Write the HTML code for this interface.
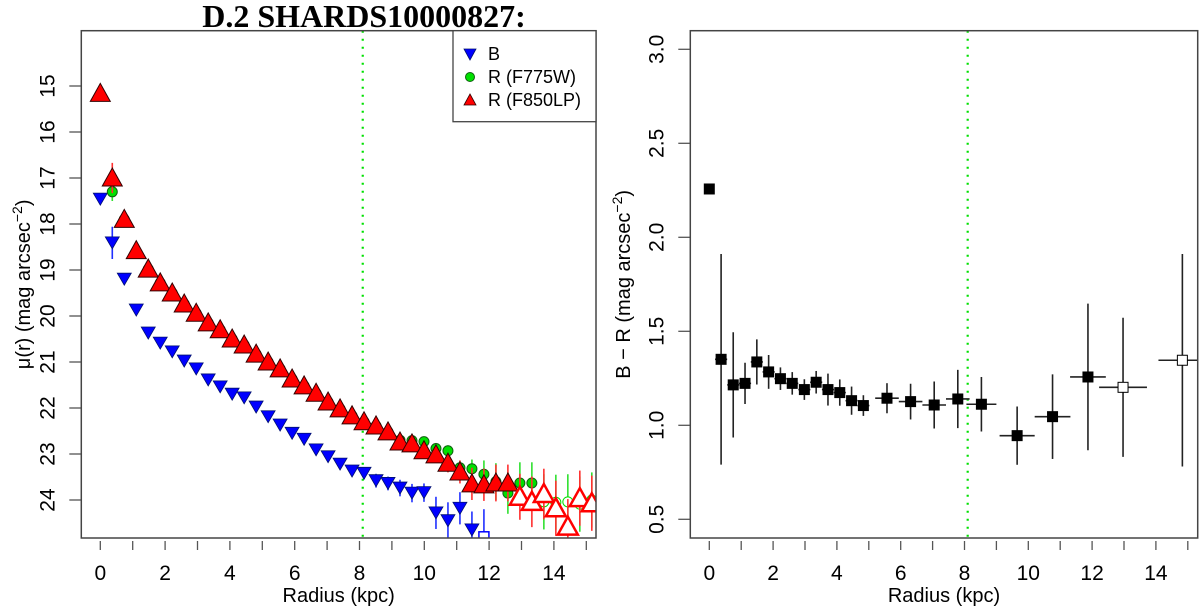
<!DOCTYPE html>
<html><head><meta charset="utf-8"><style>
html,body{margin:0;padding:0;background:#fff}
svg{display:block;font-family:"Liberation Sans",sans-serif}
</style></head><body>
<svg id="fig" width="1200" height="610" viewBox="0 0 1200 610" xmlns="http://www.w3.org/2000/svg">
<text x="364" y="27" text-anchor="middle" font-family="Liberation Serif, serif" font-weight="bold" font-size="32">D.2 SHARDS10000827:</text>
<g id="left"></g>
<g id="right"></g>
</svg>
<script>
// ---- Left panel data ----
const bMag = [17.46,18.41,19.2,19.87,20.37,20.59,20.78,20.98,21.15,21.39,21.54,21.7,21.78,21.98,22.19,22.37,22.55,22.68,22.91,23.06,23.22,23.37,23.42,23.58,23.64,23.74,23.85,23.84,24.28,24.45,24.18,24.65,24.8];
const bErr = [0.03,0.35,0.12,0.05,0.04,0.04,0.04,0.04,0.04,0.04,0.05,0.05,0.05,0.05,0.05,0.06,0.06,0.06,0.08,0.08,0.1,0.1,0.12,0.15,0.15,0.18,0.2,0.2,0.35,0.4,0.35,0.4,0.6];
const rMag = [15.16,17.0,17.9,18.58,18.98,19.28,19.5,19.74,19.94,20.15,20.3,20.5,20.63,20.83,21.0,21.15,21.37,21.52,21.68,21.87,22.02,22.17,22.3,22.39,22.52,22.74,22.78,22.93,23.02,23.2,23.39,23.65,23.67,23.63,23.63,23.93,24.04,23.87,24.18,24.58,23.96,24.07];
const rErr = [0.03,0.33,0.15,0.05,0.04,0.04,0.04,0.04,0.04,0.04,0.04,0.05,0.05,0.05,0.05,0.05,0.06,0.06,0.06,0.07,0.07,0.08,0.08,0.09,0.1,0.12,0.12,0.14,0.15,0.2,0.25,0.35,0.35,0.4,0.4,0.5,0.55,0.55,0.6,0.6,0.6,0.6];
const gMag = [15.2,17.3,17.9,18.6,18.98,19.28,19.5,19.74,19.94,20.15,20.3,20.5,20.63,20.83,21.0,21.15,21.37,21.52,21.68,21.87,22.02,22.17,22.3,22.39,22.52,22.7,22.71,22.73,22.88,22.93,23.3,23.32,23.44,23.6,23.85,23.63,23.63,24.04,24.05,24.04,24.09,24.0];
const gErr = [0.03,0.2,0.15,0.05,0.04,0.04,0.04,0.04,0.04,0.04,0.04,0.05,0.05,0.05,0.05,0.05,0.06,0.06,0.06,0.07,0.07,0.08,0.08,0.09,0.1,0.1,0.1,0.1,0.12,0.12,0.15,0.2,0.3,0.4,0.45,0.45,0.45,0.6,0.6,0.6,0.6,0.6];
const radStep = 0.37;
const bOpenFrom = 32, rOpenFrom = 35, gOpenFrom = 37;
const leftYTicks = [15,16,17,18,19,20,21,22,23,24];
const xTicks = [0,1,2,3,4,5,6,7,8,9,10,11,12,13,14,15];
const xTickLabels = ["0","2","4","6","8","10","12","14"];
const effRadius = 8.1;
// ---- Right panel data ----
const crRad = [0,0.37,0.75,1.12,1.49,1.86,2.23,2.6,2.98,3.35,3.72,4.09,4.46,4.83,5.57,6.31,7.05,7.79,8.53,9.65,10.76,11.87,12.97,14.83];
const crVal = [2.257,1.351,1.215,1.223,1.337,1.284,1.248,1.223,1.19,1.229,1.19,1.174,1.131,1.105,1.144,1.126,1.108,1.14,1.112,0.945,1.046,1.257,1.202,1.346];
const crErr = [0.01,0.56,0.28,0.11,0.12,0.09,0.06,0.06,0.055,0.06,0.085,0.07,0.075,0.055,0.08,0.095,0.125,0.155,0.145,0.155,0.225,0.39,0.37,0.565];
const crXErr = [0.1,0.19,0.19,0.19,0.19,0.19,0.19,0.19,0.19,0.19,0.19,0.19,0.19,0.19,0.37,0.37,0.37,0.37,0.47,0.55,0.56,0.56,0.75,0.75];
const crOpen = [0,0,0,0,0,0,0,0,0,0,0,0,0,0,0,0,0,0,0,0,0,0,1,1];
const rightYTicks = [0.5,1.0,1.5,2.0,2.5,3.0];
const rightYTickLabels = ["0.5","1.0","1.5","2.0","2.5","3.0"];

const NS = "http://www.w3.org/2000/svg";
function mk(parent, tag, attrs){const e=document.createElementNS(NS,tag);for(const k in attrs)e.setAttribute(k,attrs[k]);parent.appendChild(e);return e;}

const L = {x0:81.3,x1:596,y0:30.7,y1:538};
const lx = v => 100.3 + v*32.4;
const ly = v => 86 + (v-15)*46;
const R = {x0:690.3,x1:1197.7,y0:30.7,y1:538};
const rx = v => 709.3 + v*31.9;
const ry = v => 519.3 - (v-0.5)*188;

const left = document.getElementById('left');
const right = document.getElementById('right');

function axes(g, B, xs, ys, yT, yLab, yLabX){
  const xa = mk(g,'g',{});
  
  
  xTicks.forEach(t=>{
    const l=mk(xa,'line',{x1:xs(t),x2:xs(t),y1:B.y1+3,y2:B.y1+12,stroke:'#555','stroke-width':1.3});
    
    
  });
  xTickLabels.forEach(s=>{
    const t=mk(xa,'text',{x:xs(+s),y:B.y1+42,'text-anchor':'middle','font-size':21});
    
    
    t.textContent=s;
  });
  const xt=mk(g,'text',{x:(B.x0+B.x1)/2,y:B.y1+64,'text-anchor':'middle','font-size':20});
  
  
  xt.textContent='Radius (kpc)';
  const ya=mk(g,'g',{});
  
  
  yT.forEach((v,i)=>{
    const y=ys(v);
    const l=mk(ya,'line',{x1:B.x0-12,x2:B.x0,y1:y,y2:y,stroke:'#555','stroke-width':1.3});
    
    
    const lx_=B.x0-27;
    const t=mk(ya,'text',{x:lx_,y:y,'text-anchor':'middle','font-size':21,transform:`rotate(-90 ${lx_} ${y})`});
    
    
    t.textContent=yLab[i];
  });
  const cy=(B.y0+B.y1)/2;
  const yt=mk(g,'text',{x:yLabX,y:cy,'text-anchor':'middle','font-size':20,transform:`rotate(-90 ${yLabX} ${cy})`});
  
  
  return yt;
}
function frame(g,B){
  const r=mk(g,'rect',{x:B.x0,y:B.y0,width:B.x1-B.x0,height:B.y1-B.y0,fill:'none',stroke:'#444','stroke-width':1.5});
  
  
}
function clip(id,B){
  const d=mk(document.getElementById('fig'),'clipPath',{id:id});
  mk(d,'rect',{x:B.x0,y:B.y0,width:B.x1-B.x0,height:B.y1-B.y0});
}
clip('cl',L); clip('cr',R);

// ---- LEFT ----
const ytL = axes(left,L,lx,ly,leftYTicks,leftYTicks.map(String),30);
ytL.innerHTML='μ(r) (mag arcsec<tspan dy="-8" font-size="14">−2</tspan><tspan dy="8">)</tspan>';
const lp=mk(left,'g',{'clip-path':'url(#cl)'});
const vl=mk(lp,'line',{x1:lx(effRadius),x2:lx(effRadius),y1:L.y0,y2:L.y1,stroke:'#00e000','stroke-width':2.2,'stroke-dasharray':'2 6'});



function errbars(g,arr,err,col){
  arr.forEach((v,i)=>{
    const x=lx(i*radStep);
    const l=mk(g,'line',{x1:x,x2:x,y1:ly(v-err[i]),y2:ly(v+err[i]),stroke:col,'stroke-width':1.6});
    
    
  });
}
const gB=mk(lp,'g',{});  
const gG=mk(lp,'g',{});  
const gR=mk(lp,'g',{});  
errbars(gB,bMag,bErr,'#2030ff');
errbars(gG,gMag,gErr,'#30e030');
errbars(gR,rMag,rErr,'#ff3030');
bMag.forEach((v,i)=>{
  const x=lx(i*radStep),y=ly(v);
  let p;
  if(i>=bOpenFrom){p=mk(gB,'rect',{x:x-5,y:y-5,width:10,height:10,fill:'#fff',stroke:'#0000ff','stroke-width':1.5});}
  else p=mk(gB,'polygon',{points:`${x-7},${y-6} ${x+7},${y-6} ${x},${y+6}`,fill:'#0000ff',stroke:'#001070','stroke-width':0.8});
  
  
});
gMag.forEach((v,i)=>{
  const x=lx(i*radStep),y=ly(v);
  const c=mk(gG,'circle',{cx:x,cy:y,r:5,fill:i>=gOpenFrom?'#fff':'#00e000',stroke:i>=gOpenFrom?'#00e000':'#106010','stroke-width':1});
  
  
});
rMag.forEach((v,i)=>{
  const x=lx(i*radStep),y=ly(v);
  const open=i>=rOpenFrom;
  const p=mk(gR,'polygon',{points:`${x-10},${y+8} ${x+10},${y+8} ${x},${y-10}`,fill:open?'#fff':'#ff0000',stroke:open?'#ff0000':'#300',
    'stroke-width':open?2.5:1});
  
  
});
frame(left,L);
const lg=mk(left,'g',{});


mk(lg,'rect',{x:453,y:30.7,width:143,height:91,fill:'#fff',stroke:'#444','stroke-width':1.3});
const legItems=['B','R (F775W)','R (F850LP)'];
const legY=[54,77,100];
legItems.forEach((s,i)=>{
  const e=mk(lg,'g',{});
  
  
  const y=legY[i],x=470;
  if(i===0) mk(e,'polygon',{points:`${x-6},${y-5} ${x+6},${y-5} ${x},${y+6}`,fill:'#0000ff',stroke:'#001070','stroke-width':0.8});
  if(i===1) mk(e,'circle',{cx:x,cy:y,r:4.5,fill:'#00e000',stroke:'#106010','stroke-width':1});
  if(i===2) mk(e,'polygon',{points:`${x-6},${y+5} ${x+6},${y+5} ${x},${y-6}`,fill:'#ff0000',stroke:'#300','stroke-width':0.8});
  const t=mk(e,'text',{x:488,y:y+6,'font-size':18});
  t.textContent=s;
});

// ---- RIGHT ----
const ytR = axes(right,R,rx,ry,rightYTicks,rightYTickLabels,630);
ytR.innerHTML='B − R (mag arcsec<tspan dy="-8" font-size="14">−2</tspan><tspan dy="8">)</tspan>';
const rp=mk(right,'g',{'clip-path':'url(#cr)'});
const vr=mk(rp,'line',{x1:rx(effRadius),x2:rx(effRadius),y1:R.y0,y2:R.y1,stroke:'#00e000','stroke-width':2.2,'stroke-dasharray':'2 6'});


const gC=mk(rp,'g',{});


crRad.forEach((r,i)=>{
  const x=rx(r),y=ry(crVal[i]);
  const e=mk(gC,'g',{});
  
  
  mk(e,'line',{x1:x,x2:x,y1:ry(crVal[i]+crErr[i]),y2:ry(crVal[i]-crErr[i]),stroke:'#222','stroke-width':1.6});
  mk(e,'line',{x1:rx(r-crXErr[i]),x2:rx(r+crXErr[i]),y1:y,y2:y,stroke:'#222','stroke-width':1.6});
  mk(e,'rect',{x:x-5,y:y-5,width:10,height:10,fill:crOpen[i]?'#fff':'#000',stroke:'#000','stroke-width':1});
});
frame(right,R);
</script>
</body></html>
